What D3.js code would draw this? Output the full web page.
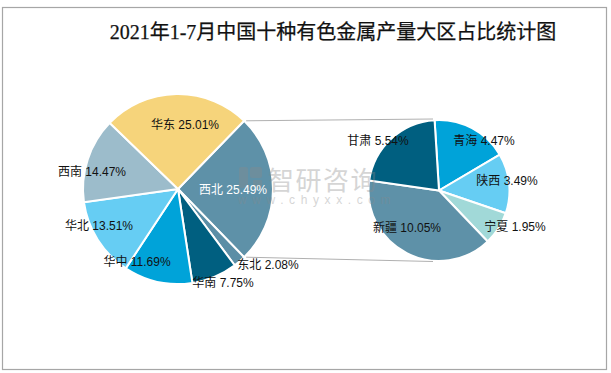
<!DOCTYPE html>
<html><head><meta charset="utf-8">
<script src="https://cdn.jsdelivr.net/npm/d3@7"></script>
<style>body{margin:0;background:#fff;}svg{display:block;}</style>
</head><body>
<svg id="c" width="611" height="373"></svg>
<script>
const mainCategories = ["西北","东北","华南","华中","华北","西南","华东"];
const mainValues = [25.49,2.08,7.75,11.69,13.51,14.47,25.01];
const mainColors = ["#5e91a8","#5b8ea6","#005f80","#00a3d9","#66cdf3","#9cbccb","#f6d47b"];
const subCategories = ["青海","陕西","宁夏","新疆","甘肃"];
const subValues = [4.47,3.49,1.95,10.05,5.54];
const subColors = ["#00a3d9","#66cdf3","#a1d9d8","#5e91a8","#005f80"];
const title = "2021年1-7月中国十种有色金属产量大区占比统计图";

const svg = d3.select("#c");
svg.append("rect").attr("x",2.5).attr("y",7.5).attr("width",604).attr("height",362)
  .attr("fill","#fff").attr("stroke","#a6a6a6").attr("stroke-width",1.2);

svg.append("text").attr("x",333).attr("y",39).attr("text-anchor","middle")
  .attr("font-family","'Liberation Serif','Noto Sans CJK SC',serif").attr("font-size",20)
  .attr("font-weight","normal").attr("fill","#111").attr("stroke","#111").attr("stroke-width",0.25)
  .text(title);

const font = "'Liberation Sans','Noto Sans CJK SC',sans-serif";
const deg = Math.PI/180;

// main pie
const mc = [178,189], mr = 95;
const total = d3.sum(mainValues);
const half = mainValues[0]/total*Math.PI;
const mainPie = d3.pie().sort(null).startAngle(Math.PI/2-half).endAngle(Math.PI/2-half+2*Math.PI)(mainValues);
const arcM = d3.arc().innerRadius(0).outerRadius(mr);
const gM = svg.append("g").attr("transform",`translate(${mc})`);
gM.selectAll("path").data(mainPie).join("path").attr("d",arcM)
  .attr("fill",(d,i)=>mainColors[i]).attr("stroke","#fff").attr("stroke-width",2);

// sub pie
const sc = [439,190.5], sr = 70.5;
const s0 = -3.6*deg;
const subPie = d3.pie().sort(null).startAngle(s0).endAngle(s0+2*Math.PI)(subValues);
const arcS = d3.arc().innerRadius(0).outerRadius(sr);
const gS = svg.append("g").attr("transform",`translate(${sc})`);
gS.selectAll("path").data(subPie).join("path").attr("d",arcS)
  .attr("fill",(d,i)=>subColors[i]).attr("stroke","#fff").attr("stroke-width",2);

// connector lines
const a1 = mainPie[0].startAngle, a2 = mainPie[0].endAngle;
const p1 = [mc[0]+mr*Math.sin(a1), mc[1]-mr*Math.cos(a1)];
const p2 = [mc[0]+mr*Math.sin(a2), mc[1]-mr*Math.cos(a2)];
svg.append("line").attr("x1",p1[0]+2).attr("y1",p1[1]).attr("x2",sc[0]-6).attr("y2",sc[1]-sr-1)
  .attr("stroke","#b0b0b0").attr("stroke-width",1);
svg.append("line").attr("x1",p2[0]+2).attr("y1",p2[1]).attr("x2",sc[0]-6).attr("y2",sc[1]+sr+0.5)
  .attr("stroke","#b0b0b0").attr("stroke-width",1);

// watermark
const wm = svg.append("g").attr("opacity",0.35).attr("fill","#8a8a8a");
wm.append("rect").attr("x",239).attr("y",167).attr("width",9).attr("height",21).attr("rx",2);
wm.append("rect").attr("x",250).attr("y",167).attr("width",12).attr("height",11).attr("rx",2);
wm.append("rect").attr("x",253).attr("y",180).attr("width",9).attr("height",8).attr("rx",1);
wm.append("text").attr("x",268).attr("y",190).attr("font-family","'Noto Sans CJK SC',sans-serif")
  .attr("font-size",26).attr("letter-spacing",1.5).text("智研咨询");
wm.append("text").attr("x",238).attr("y",204).attr("font-family","'Liberation Sans',sans-serif")
  .attr("font-size",12).attr("letter-spacing",5.6).text("www.chyxx.com");

// labels
const mainLabelPos = [[233,194,"#fff"],[268,269,"#111"],[223,287,"#111"],[137,266,"#111"],[99,230,"#111"],[92,176,"#111"],[185,129,"#111"]];
svg.append("g").selectAll("text").data(mainCategories).join("text")
  .attr("x",(d,i)=>mainLabelPos[i][0]).attr("y",(d,i)=>mainLabelPos[i][1])
  .attr("text-anchor","middle").attr("font-family",font).attr("font-size",12)
  .attr("fill",(d,i)=>mainLabelPos[i][2])
  .text((d,i)=>`${d} ${mainValues[i].toFixed(2)}%`);
const subLabelPos = [[484,145],[507,185],[515,231],[407,232],[378,145]];
svg.append("g").selectAll("text").data(subCategories).join("text")
  .attr("x",(d,i)=>subLabelPos[i][0]).attr("y",(d,i)=>subLabelPos[i][1])
  .attr("text-anchor","middle").attr("font-family",font).attr("font-size",12)
  .attr("fill","#111")
  .text((d,i)=>`${d} ${subValues[i].toFixed(2)}%`);
</script>
</body></html>
